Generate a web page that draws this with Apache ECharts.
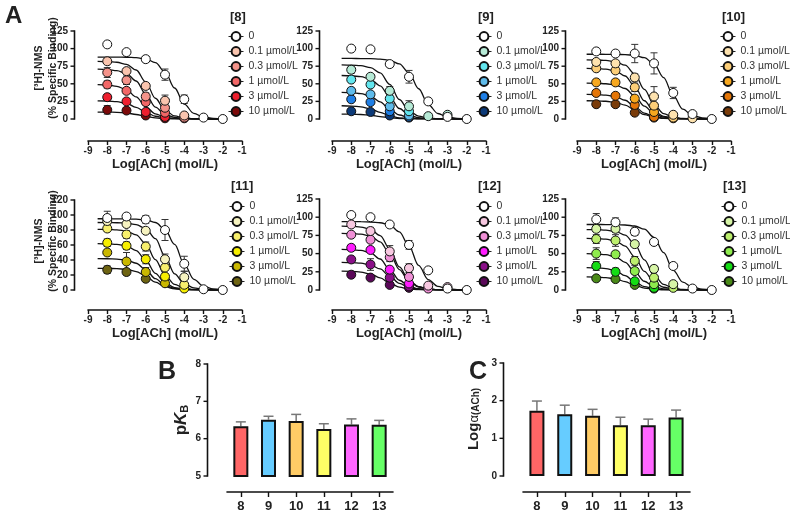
<!DOCTYPE html>
<html>
<head>
<meta charset="utf-8">
<script src="https://cdn.jsdelivr.net/npm/echarts@6/dist/echarts.min.js"></script>
<style>
  html, body { margin: 0; background: #fff; }
  #main { width: 790px; height: 513px; }
</style>
</head>
<body>
<div id="main"></div>
<script>
// ---- data ----
const logAch = [-8, -7, -6, -5, -4, -3, -2];
const fitLogAch = [-8.5, -8, -7.5, -7, -6.5, -6, -5.5, -5, -4.5, -4, -3.5, -3, -2.5, -2];
const concLabels = ['0', '0.1 µmol/L', '0.3 µmol/L', '1 µmol/L', '3 µmol/L', '10 µmol/L'];
const compounds = ['8', '9', '10', '11', '12', '13'];
const yTicks125 = [0, 25, 50, 75, 100, 125];
const yTicks120 = [0, 20, 40, 60, 80, 100, 120];
const pKbTicks = [5, 6, 7, 8];
const logAlphaTicks = [0, 1, 2, 3];

// mean % specific binding, rows = modulator conc, cols = logAch
const pts8 = [
  [106, 95, 85, 63, 28, 2, 0],
  [82, 68, 47, 26, 5, null, null],
  [66, 55, 32, 16, 2, null, null],
  [49, 40, 24, 9, 1, null, null],
  [31, 25, 10, 3, null, null, null],
  [13, 12, 5, 1, null, null, null]
];
const err8 = [
  [0, 3, 4, 8, 6, 0, 0],
  [0, 4, 3, 8, 0, 0, 0],
  [7, 6, 5, 2, 0, 0, 0],
  [5, 4, 4, 0, 0, 0, 0],
  [4, 3, 2, 0, 0, 0, 0],
  [6, 4, 0, 0, 0, 0, 0]
];
const fit8 = [
  [88, 88, 87.9, 87.7, 87.1, 85.3, 80, 66.9, 44, 21.1, 8, 2.7, 0.9, 0.3],
  [81.8, 81.5, 80.6, 77.7, 69.6, 52.5, 29.5, 12.4, 4.3, 1.4, 0.5, 0.2, 0, 0],
  [70.8, 70.3, 68.8, 64.5, 54, 35.5, 17, 6.5, 2.2, 0.7, 0.2, 0.1, 0, 0],
  [48.7, 48.2, 46.4, 41.6, 31.4, 17.6, 7.4, 2.6, 0.8, 0.3, 0.1, 0, 0, 0],
  [25.8, 25.6, 24.6, 22.1, 16.6, 9.4, 3.9, 1.4, 0.4, 0.2, 0, 0, 0, 0],
  [9.9, 9.8, 9.5, 8.5, 6.4, 3.6, 1.5, 0.5, 0.2, 0.1, 0, 0, 0, 0]
];

const pts9 = [
  [100, 99, 78, 60, 25, 3, 0],
  [70, 60, 40, 18, 4, 6, null],
  [56, 49, 29, 11, null, null, null],
  [40, 35, 18, 5, null, null, null],
  [28, 24, 11, 3, null, null, null],
  [11, 10, 5, 2, null, null, null]
];
const err9 = [
  [0, 0, 4, 9, 4, 0, 0],
  [5, 3, 6, 8, 2, 3, 0],
  [3, 4, 4, 3, 0, 0, 0],
  [4, 3, 3, 2, 0, 0, 0],
  [3, 3, 2, 0, 0, 0, 0],
  [3, 2, 0, 0, 0, 0, 0]
];
const fit9 = [
  [86, 86, 85.9, 85.7, 85.1, 83.3, 78.2, 65.4, 43, 20.6, 7.8, 2.7, 0.9, 0.3],
  [76.8, 76.5, 75.7, 72.9, 65.4, 49.3, 27.7, 11.6, 4.1, 1.3, 0.5, 0.2, 0, 0],
  [61.8, 61.4, 60.1, 56.4, 47.1, 31, 14.9, 5.6, 1.9, 0.6, 0.2, 0.1, 0, 0],
  [37.8, 37.4, 36, 32.3, 24.3, 13.7, 5.7, 2, 0.6, 0.2, 0.1, 0, 0, 0],
  [18.8, 18.4, 17.3, 14.4, 9.5, 4.6, 1.7, 0.6, 0.2, 0.1, 0, 0, 0, 0],
  [6.9, 6.8, 6.4, 5.3, 3.5, 1.7, 0.6, 0.2, 0.1, 0, 0, 0, 0, 0]
];

const pts10 = [
  [96, 93, 93, 79, 37, 7, 0],
  [81, 79, 59, 32, 6, 1, null],
  [72, 69, 45, 19, 2, null, null],
  [52, 52, 29, 10, 1, null, null],
  [37, 33, 20, 3, null, null, null],
  [21, 21, 9, 2, null, null, null]
];
const err10 = [
  [0, 0, 13, 15, 8, 0, 0],
  [3, 3, 5, 14, 2, 0, 0],
  [3, 4, 6, 4, 0, 0, 0],
  [3, 3, 4, 2, 0, 0, 0],
  [3, 3, 2, 0, 0, 0, 0],
  [2, 2, 2, 0, 0, 0, 0]
];
const fit10 = [
  [92, 92, 91.9, 91.8, 91.4, 90.4, 87.1, 78.1, 58.9, 33.1, 13.9, 4.9, 1.6, 0.6],
  [83.9, 83.7, 83.2, 81.4, 76.4, 63.8, 42, 20.2, 7.6, 2.6, 0.8, 0.3, 0.1, 0],
  [71.9, 71.6, 70.8, 68.2, 61.1, 46.1, 25.9, 10.9, 3.8, 1.2, 0.4, 0.1, 0, 0],
  [50.9, 50.7, 50.1, 48.3, 43.3, 32.6, 18.4, 7.7, 2.7, 0.9, 0.3, 0.1, 0, 0],
  [34.9, 34.7, 33.9, 31.8, 26.6, 17.5, 8.4, 3.2, 1.1, 0.4, 0.1, 0, 0, 0],
  [25.9, 25.7, 25.2, 23.6, 19.8, 13, 6.2, 2.4, 0.8, 0.3, 0.1, 0, 0, 0]
];

const pts11 = [
  [96, 98, 94, 80, 35, 1, 0],
  [92, 88, 79, 41, 17, null, null],
  [82, 74, 58, 30, 7, null, null],
  [63, 59, 41, 18, 2, null, null],
  [50, 38, 24, 9, null, null, null],
  [27, 24, 15, null, null, null, null]
];
const err11 = [
  [9, 3, 5, 14, 10, 0, 0],
  [4, 4, 3, 7, 8, 0, 0],
  [4, 5, 6, 4, 3, 0, 0],
  [5, 5, 6, 4, 0, 0, 0],
  [0, 12, 6, 3, 0, 0, 0],
  [5, 4, 3, 0, 0, 0, 0]
];
const fit11 = [
  [95, 95, 94.9, 94.8, 94.4, 93.4, 90, 80.7, 60.8, 34.2, 14.3, 5, 1.6, 0.6],
  [90, 89.9, 89.7, 89.1, 87.2, 81.8, 68.4, 45, 21.6, 8.2, 2.8, 0.9, 0.3, 0.1],
  [80.9, 80.8, 80.2, 78.5, 73.6, 61.6, 40.5, 19.4, 7.4, 2.5, 0.8, 0.2, 0.1, 0],
  [61.9, 61.6, 60.9, 58.7, 52.6, 39.7, 22.3, 9.4, 3.3, 1.1, 0.4, 0.1, 0, 0],
  [41.9, 41.7, 41.3, 39.8, 35.7, 26.9, 15.1, 6.3, 2.2, 0.7, 0.3, 0.1, 0, 0],
  [28.9, 28.8, 28.5, 27.5, 24.6, 18.6, 10.4, 4.4, 1.5, 0.5, 0.2, 0, 0, 0]
];

const pts12 = [
  [103, 100, 90, 62, 27, 2, 0],
  [90, 81, 53, 30, 6, 4, null],
  [76, 69, 45, 18, 2, null, null],
  [58, 55, 28, 9, null, null, null],
  [42, 35, 17, 5, null, null, null],
  [21, 17, 7, 3, null, null, null]
];
const err12 = [
  [0, 0, 3, 6, 0, 0, 0],
  [3, 5, 8, 6, 2, 0, 0],
  [3, 4, 6, 3, 0, 0, 0],
  [4, 4, 3, 2, 0, 0, 0],
  [0, 8, 4, 2, 0, 0, 0],
  [3, 3, 2, 0, 0, 0, 0]
];
const fit12 = [
  [94, 93.9, 93.8, 93.4, 92.4, 89, 79.8, 60.2, 33.8, 14.2, 5, 1.6, 0.6, 0.2],
  [87.8, 87.5, 86.5, 83.3, 74.7, 56.3, 31.7, 13.3, 4.7, 1.5, 0.5, 0.2, 0, 0],
  [77.8, 77.5, 76.7, 73.9, 66.2, 49.9, 28.1, 11.8, 4.1, 1.3, 0.5, 0.2, 0, 0],
  [55.8, 55.4, 54.3, 50.9, 42.6, 28, 13.4, 5.1, 1.7, 0.6, 0.2, 0.1, 0, 0],
  [37.9, 37.6, 36.8, 34.5, 28.9, 19, 9.1, 3.5, 1.2, 0.4, 0.1, 0, 0, 0],
  [25.8, 25.6, 24.6, 22.1, 16.6, 9.4, 3.9, 1.4, 0.4, 0.2, 0, 0, 0, 0]
];

const pts13 = [
  [97, 93, 80, 66, 33, 2, 0],
  [84, 84, 63, 29, 8, null, null],
  [70, 68, 40, 17, 3, null, null],
  [50, 49, 26, 8, null, null, null],
  [33, 25, 12, 3, null, null, null],
  [16, 15, 7, 2, null, null, null]
];
const err13 = [
  [8, 6, 5, 0, 0, 0, 0],
  [4, 5, 3, 4, 2, 0, 0],
  [6, 8, 6, 3, 0, 0, 0],
  [8, 4, 4, 2, 0, 0, 0],
  [6, 5, 3, 0, 0, 0, 0],
  [3, 3, 2, 0, 0, 0, 0]
];
const fit13 = [
  [90, 90, 89.9, 89.75, 89.3, 87.9, 83.5, 72.4, 51.3, 27, 10.9, 3.8, 1.2, 0.4],
  [82.9, 82.8, 82.2, 80.4, 75.4, 63.1, 41.5, 19.9, 7.6, 2.6, 0.8, 0.2, 0.1, 0],
  [70.9, 70.6, 69.8, 67.2, 60.3, 45.4, 25.6, 10.7, 3.8, 1.2, 0.4, 0.1, 0, 0],
  [49.9, 49.5, 48.5, 45.5, 38, 25, 12, 4.6, 1.6, 0.5, 0.2, 0.1, 0, 0],
  [30.8, 30.5, 29.4, 26.3, 19.8, 11.2, 4.7, 1.6, 0.5, 0.2, 0.1, 0, 0, 0],
  [17.9, 17.7, 17, 15.3, 11.5, 6.5, 2.7, 0.9, 0.3, 0.1, 0, 0, 0, 0]
];

// bar panels B and C
const pKbMean = [6.33, 6.51, 6.47, 6.26, 6.38, 6.37];
const pKbSem = [0.12, 0.09, 0.18, 0.14, 0.15, 0.12];
const logAlphaMean = [1.73, 1.64, 1.60, 1.35, 1.35, 1.55];
const logAlphaSem = [0.26, 0.24, 0.17, 0.21, 0.16, 0.20];

// ---- styling ----
const FONT = '"Liberation Sans", Arial, sans-serif';
const palettes = [
  ['#ffffff', '#f9c4ae', '#f4938a', '#f26767', '#ee1f2e', '#7c0a0a'],
  ['#ffffff', '#b6ead6', '#63e6ee', '#5fbbea', '#1f7fe6', '#0c3a78'],
  ['#ffffff', '#fde2ae', '#fcce78', '#f7a81f', '#e47608', '#7a3c0a'],
  ['#ffffff', '#f6f3c0', '#f7ef6c', '#f6ee00', '#c9b700', '#6e6412'],
  ['#ffffff', '#f7c8e0', '#ef90d6', '#ff1cff', '#8a1088', '#5a0858'],
  ['#ffffff', '#d6f4a6', '#bdef6e', '#8fec4e', '#14dd14', '#4a8a18']
];
const barColors = ['#ff6666', '#66ccff', '#ffcc66', '#ffff66', '#ff66ff', '#66ff66'];

const panelData = [
  { pts: pts8, err: err8, fit: fit8 },
  { pts: pts9, err: err9, fit: fit9 },
  { pts: pts10, err: err10, fit: fit10 },
  { pts: pts11, err: err11, fit: fit11 },
  { pts: pts12, err: err12, fit: fit12 },
  { pts: pts13, err: err13, fit: fit13 }
];

const layout = [
  { left: 88, top: 31, height: 88, ticks: yTicks125, yOff: 14, xOff: 22, lgX: 228, lgY: 31, ttlY: 18 },
  { left: 332, top: 31, height: 88, ticks: yTicks125, yOff: 13, xOff: 22, lgX: 476, lgY: 31, ttlY: 18 },
  { left: 577, top: 31, height: 88, ticks: yTicks125, yOff: 12, xOff: 22, lgX: 720, lgY: 31, ttlY: 18 },
  { left: 88, top: 200, height: 90, ticks: yTicks120, yOff: 14, xOff: 20, lgX: 229, lgY: 201, ttlY: 187 },
  { left: 332, top: 199, height: 91, ticks: yTicks125, yOff: 13, xOff: 20, lgX: 476, lgY: 201, ttlY: 187 },
  { left: 577, top: 199, height: 91, ticks: yTicks125, yOff: 12, xOff: 20, lgX: 721, lgY: 201, ttlY: 187 }
];

function errorBar(upOnly, cap, color, width) {
  return function (params, api) {
    const x = api.value(0), y = api.value(1), e = api.value(2);
    const hi = api.coord([x, y + e]);
    const lo = api.coord([x, upOnly ? y : y - e]);
    const st = { stroke: color, lineWidth: width };
    const kids = [
      { type: 'line', shape: { x1: hi[0], y1: hi[1], x2: lo[0], y2: lo[1] }, style: st },
      { type: 'line', shape: { x1: hi[0] - cap, y1: hi[1], x2: hi[0] + cap, y2: hi[1] }, style: st }
    ];
    if (!upOnly) {
      kids.push({ type: 'line', shape: { x1: lo[0] - cap, y1: lo[1], x2: lo[0] + cap, y2: lo[1] }, style: st });
    }
    return { type: 'group', children: kids };
  };
}

// the y axis line of this build does not always draw, so draw line + ticks from the axis scale
function yAxisLine(gap, tickLen) {
  return function (params, api) {
    const cs = params.coordSys;
    const ax = Math.round(cs.x - gap) + 0.5;
    const y = api.coord([api.value(0), api.value(1)])[1];
    const kids = [{ type: 'line', shape: { x1: ax - tickLen, y1: y, x2: ax, y2: y }, style: { stroke: '#111', lineWidth: 1.4 } }];
    if (params.dataIndex === 0) {
      kids.push({ type: 'line', shape: { x1: ax, y1: cs.y - 0.7, x2: ax, y2: cs.y + cs.height + 0.7 }, style: { stroke: '#111', lineWidth: 1.6 } });
    }
    return { type: 'group', children: kids };
  };
}

const mkLine = () => ({ show: true, onZero: false, lineStyle: { color: '#111', width: 1.6 } });
const mkTick = (len, extra) => Object.assign({ show: true, length: len, lineStyle: { color: '#111', width: 1.4 } }, extra || {});
const mkLabel = (size, margin) => ({ show: true, fontFamily: FONT, fontWeight: 'bold', fontSize: size, color: '#222', margin: margin });

const grid = [], xAxis = [], yAxis = [], series = [], legend = [], graphic = [];

compounds.forEach((c, p) => {
  const L = layout[p], d = panelData[p], col = palettes[p];
  const ticks = L.ticks;
  grid.push({ left: L.left, top: L.top, width: 154, height: L.height });
  xAxis.push({
    type: 'value', gridIndex: p, min: -9, max: -1, interval: 1, offset: L.xOff,
    axisLine: mkLine(), axisTick: mkTick(4), splitLine: { show: false },
    axisLabel: mkLabel(10, 5),
    name: 'Log[ACh] (mol/L)', nameLocation: 'middle', nameGap: 17,
    nameTextStyle: { fontFamily: FONT, fontWeight: 'bold', fontSize: 13, color: '#222', verticalAlign: 'top' }
  });
  yAxis.push({
    type: 'value', gridIndex: p, min: ticks[0], max: ticks[ticks.length - 1], interval: ticks[1] - ticks[0],
    offset: L.yOff, axisLine: { show: false }, axisTick: { show: false }, splitLine: { show: false },
    axisLabel: mkLabel(10, 6)
  });
  series.push({
    type: 'custom', xAxisIndex: p, yAxisIndex: p, silent: true, z: 5, clip: false,
    data: ticks.map(t => [-9, t]), renderItem: yAxisLine(L.yOff, 4)
  });

  d.fit.forEach(arr => {
    series.push({
      type: 'line', xAxisIndex: p, yAxisIndex: p, silent: true, z: 2,
      data: fitLogAch.map((x, k) => [x, arr[k]]),
      showSymbol: false, smooth: 0.35, smoothMonotone: 'x',
      lineStyle: { color: '#111', width: 1.3 }
    });
  });

  const errData = [];
  d.pts.forEach((arr, i) => arr.forEach((v, k) => {
    if (v != null && d.err[i][k]) errData.push([logAch[k], v, d.err[i][k]]);
  }));
  series.push({
    type: 'custom', xAxisIndex: p, yAxisIndex: p, silent: true, z: 3,
    data: errData, renderItem: errorBar(false, 3.5, '#333', 1)
  });

  for (let i = 5; i >= 0; i--) {
    series.push({
      type: 'line', name: c + '|' + i, xAxisIndex: p, yAxisIndex: p, z: 4,
      data: logAch.map((x, k) => [x, d.pts[i][k]]).filter(q => q[1] != null),
      symbol: 'circle', symbolSize: 9,
      lineStyle: { width: 0, opacity: 0 },
      itemStyle: { color: col[i], borderColor: '#111', borderWidth: 1 }
    });
  }

  legend.push({
    orient: 'vertical', left: L.lgX, top: L.lgY, padding: 0,
    itemWidth: 15, itemHeight: 11, itemGap: 4,
    data: concLabels.map((_, i) => c + '|' + i),
    formatter: name => concLabels[+name.split('|')[1]],
    lineStyle: { color: '#222', width: 1, opacity: 1 },
    textStyle: { fontFamily: FONT, fontSize: 10.5, color: '#333' }
  });

  graphic.push({
    type: 'text', left: L.lgX + 2, top: L.ttlY - 7,
    style: { text: '[' + c + ']', font: 'bold 13px ' + FONT, fill: '#222' }
  });
});

// bar panels
const barDefs = [
  { left: 227, top: 364, width: 166, height: 112, ticks: pKbTicks, mean: pKbMean, sem: pKbSem },
  { left: 523, top: 363, width: 167, height: 113, ticks: logAlphaTicks, mean: logAlphaMean, sem: logAlphaSem }
];
barDefs.forEach((b, j) => {
  const g = 6 + j;
  grid.push({ left: b.left, top: b.top, width: b.width, height: b.height });
  xAxis.push({
    type: 'category', gridIndex: g, data: compounds, offset: 16,
    axisLine: mkLine(), axisTick: mkTick(5, { alignWithLabel: true }),
    axisLabel: mkLabel(13, 8)
  });
  yAxis.push({
    type: 'value', gridIndex: g, min: b.ticks[0], max: b.ticks[b.ticks.length - 1], interval: 1, offset: 20,
    axisLine: { show: false }, axisTick: { show: false }, splitLine: { show: false },
    axisLabel: mkLabel(10, 6)
  });
  series.push({
    type: 'custom', xAxisIndex: g, yAxisIndex: g, silent: true, z: 5, clip: false,
    data: b.ticks.map(t => [0, t]), renderItem: yAxisLine(20, 4)
  });
  series.push({
    type: 'custom', xAxisIndex: g, yAxisIndex: g, silent: true, z: 1,
    data: b.mean.map((v, i) => [i, v, b.sem[i]]),
    renderItem: errorBar(true, 5, '#777', 1.5)
  });
  series.push({
    type: 'bar', xAxisIndex: g, yAxisIndex: g, barWidth: 15, z: 2,
    data: b.mean.map((v, i) => ({ value: v, itemStyle: { color: barColors[i] } })),
    itemStyle: { borderColor: '#111', borderWidth: 2 }
  });
});

// panel letters and rotated axis titles
graphic.push(
  { type: 'text', left: 5, top: 4, style: { text: 'A', font: 'bold 24px ' + FONT, fill: '#222' } },
  { type: 'text', left: 158, top: 360, style: { text: 'B', font: 'bold 25px ' + FONT, fill: '#222' } },
  { type: 'text', left: 469, top: 360, style: { text: 'C', font: 'bold 25px ' + FONT, fill: '#222' } }
);
[68, 241].forEach(cy => {
  graphic.push({
    type: 'text', x: 46, y: cy, rotation: Math.PI / 2,
    style: {
      text: '[³H]-NMS\n(% Specific Binding)', font: 'bold 10.5px ' + FONT, fill: '#222',
      align: 'center', verticalAlign: 'middle', lineHeight: 14
    }
  });
});
graphic.push({
  type: 'text', x: 180, y: 420, rotation: Math.PI / 2,
  style: {
    text: '{a|p}{b|K}{c|B}', align: 'center', verticalAlign: 'middle',
    rich: {
      a: { font: 'bold 17px ' + FONT, fill: '#222', lineHeight: 20, verticalAlign: 'bottom' },
      b: { font: 'bold italic 17px ' + FONT, fill: '#222', lineHeight: 20, verticalAlign: 'bottom' },
      c: { font: 'bold 11px ' + FONT, fill: '#222', lineHeight: 9, verticalAlign: 'bottom' }
    }
  }
});
graphic.push({
  type: 'text', x: 472, y: 419, rotation: Math.PI / 2,
  style: {
    text: '{a|Log}{b|α}{c|(ACh)}', align: 'center', verticalAlign: 'middle',
    rich: {
      a: { font: 'bold 15px ' + FONT, fill: '#222', lineHeight: 18, verticalAlign: 'bottom' },
      b: { font: '13px ' + FONT, fill: '#222', lineHeight: 12, verticalAlign: 'bottom' },
      c: { font: 'bold 10px ' + FONT, fill: '#222', lineHeight: 8, verticalAlign: 'bottom' }
    }
  }
});

const chart = echarts.init(document.getElementById('main'));
chart.setOption({
  animation: false,
  backgroundColor: '#fff',
  grid, xAxis, yAxis, series, legend, graphic
});
</script>
</body>
</html>
